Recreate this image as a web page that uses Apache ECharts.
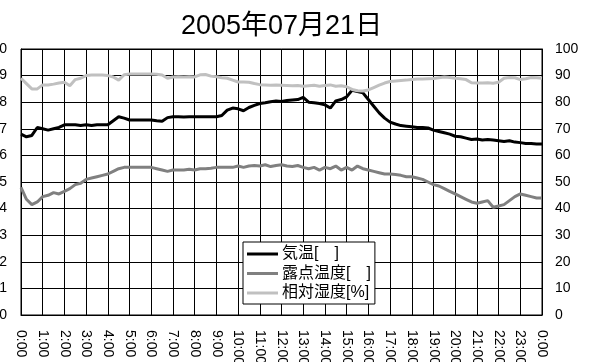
<!DOCTYPE html>
<html>
<head>
<meta charset="utf-8">
<script src="https://cdn.jsdelivr.net/npm/echarts@6/dist/echarts.min.js"></script>
<style>
  html, body { margin: 0; padding: 0; background: #fff; }
  #chart { width: 589px; height: 362px; }
</style>
</head>
<body>
<div id="chart"></div>
<script>
// Observations every 15 minutes, 0:00 to 24:00
const STEP_HOURS = 0.25;

// Air temperature [°C]
const airTemp = [
  26.80, 26.70, 26.75, 27.05, 27.00, 26.95, 27.00, 27.05,
  27.15, 27.15, 27.15, 27.12, 27.15, 27.12, 27.15, 27.15,
  27.15, 27.30, 27.45, 27.40, 27.33, 27.33, 27.33, 27.33,
  27.33, 27.30, 27.28, 27.42, 27.45, 27.45, 27.44, 27.45,
  27.45, 27.45, 27.45, 27.45, 27.45, 27.50, 27.70, 27.78,
  27.75, 27.68, 27.80, 27.88, 27.95, 27.98, 28.02, 28.05,
  28.03, 28.06, 28.08, 28.10, 28.18, 28.00, 27.98, 27.95,
  27.90, 27.78, 28.05, 28.10, 28.20, 28.45, 28.40, 28.35,
  28.10, 27.85, 27.60, 27.40, 27.25, 27.18, 27.12, 27.10,
  27.08, 27.05, 27.05, 27.03, 26.95, 26.90, 26.85, 26.80,
  26.72, 26.70, 26.65, 26.60, 26.62, 26.58, 26.60, 26.58,
  26.55, 26.52, 26.55, 26.50, 26.48, 26.45, 26.45, 26.43,
  26.43
];

// Dew point [°C]
const dewPoint = [
  24.80, 24.35, 24.15, 24.25, 24.45, 24.50, 24.60, 24.55,
  24.65, 24.75, 24.90, 24.95, 25.10, 25.15, 25.20, 25.25,
  25.30, 25.40, 25.50, 25.55, 25.55, 25.55, 25.55, 25.55,
  25.55, 25.50, 25.45, 25.40, 25.45, 25.45, 25.45, 25.48,
  25.45, 25.50, 25.50, 25.52, 25.55, 25.55, 25.55, 25.55,
  25.60, 25.55, 25.60, 25.62, 25.60, 25.65, 25.58, 25.62,
  25.65, 25.60, 25.58, 25.62, 25.55, 25.50, 25.55, 25.45,
  25.55, 25.50, 25.60, 25.45, 25.55, 25.45, 25.60, 25.50,
  25.45, 25.40, 25.35, 25.30, 25.30, 25.28, 25.25, 25.20,
  25.20, 25.15, 25.10, 25.00, 24.90, 24.85, 24.75, 24.65,
  24.55, 24.45, 24.35, 24.25, 24.20, 24.25, 24.30, 24.05,
  24.10, 24.15, 24.30, 24.45, 24.55, 24.50, 24.45, 24.40,
  24.40
];

// Relative humidity [%]
const humidity = [
  89.0, 87.0, 85.0, 85.0, 86.5, 86.5, 86.8, 87.2,
  87.5, 86.2, 88.5, 89.0, 90.0, 90.2, 90.2, 90.2,
  90.0, 89.5, 88.3, 90.3, 90.6, 90.6, 90.6, 90.6,
  90.6, 90.5, 90.2, 89.0, 89.5, 89.6, 89.5, 89.6,
  89.5, 90.3, 90.4, 89.8, 89.6, 89.2, 89.0, 88.3,
  87.6, 87.6, 87.5, 87.0, 86.6, 86.5, 86.4, 86.5,
  86.4, 86.3, 86.2, 86.3, 86.0, 86.2, 86.4, 86.0,
  86.3, 86.5, 86.0, 86.2, 85.8, 84.8, 84.3, 84.2,
  84.6, 85.5, 86.4, 87.2, 87.8, 88.0, 88.2, 88.3,
  88.5, 88.7, 88.7, 88.8, 88.9, 89.2, 89.5, 89.3,
  89.0, 88.8, 88.5, 87.3, 87.2, 87.2, 87.3, 87.1,
  87.5, 89.0, 89.3, 89.2, 88.5, 88.8, 89.3, 89.2,
  89.0
];

const seriesNames = ['気温[　]', '露点温度[　]', '相対湿度[%]'];
const titleText = '2005年07月21日';

const FONT = '"Liberation Sans", Arial, "Noto Sans CJK JP", sans-serif';

function toPairs(values) {
  return values.map((v, i) => [i * STEP_HOURS, v]);
}

const chart = echarts.init(document.getElementById('chart'), null, { renderer: 'canvas' });

chart.setOption({
  animation: false,
  backgroundColor: '#fff',
  textStyle: { fontFamily: FONT, color: '#000' },
  title: {
    text: titleText,
    left: 176,
    top: 8,
    textStyle: { fontFamily: FONT, fontSize: 27, fontWeight: 'normal', color: '#000' }
  },
  grid: {
    left: 21, right: 47, top: 49, bottom: 47,
    containLabel: false,
    outerBoundsMode: 'none',
    show: true, borderColor: '#000', borderWidth: 1, backgroundColor: '#fff'
  },
  legend: {
    orient: 'vertical',
    left: 243, top: 242,
    backgroundColor: '#fff',
    borderColor: '#000', borderWidth: 1, borderRadius: 0,
    padding: [4, 4, 3, 4],
    itemGap: 3.5,
    itemWidth: 31, itemHeight: 3,
    icon: 'rect',
    textStyle: { fontFamily: FONT, fontSize: 16, color: '#000', padding: [0, 0, 0, -1] },
    data: seriesNames
  },
  xAxis: {
    type: 'value',
    min: 0, max: 24, interval: 1,
    axisLine: { show: true, lineStyle: { color: '#000', width: 1 } },
    axisTick: { show: false },
    splitLine: { show: true, lineStyle: { color: '#000', width: 1 } },
    axisLabel: {
      rotate: -90,
      margin: 15,
      fontSize: 14,
      color: '#000',
      fontFamily: FONT,
      hideOverlap: false,
      formatter: v => (v % 24) + ':00'
    }
  },
  yAxis: [
    {
      type: 'value',
      min: 20, max: 30, interval: 1,
      axisLine: { show: true, lineStyle: { color: '#000', width: 1 } },
      axisTick: { show: false },
      splitLine: { show: true, lineStyle: { color: '#000', width: 1 } },
      axisLabel: { margin: 14, fontSize: 14, color: '#000', fontFamily: FONT }
    },
    {
      type: 'value',
      min: 0, max: 100, interval: 10,
      position: 'right',
      axisLine: { show: true, lineStyle: { color: '#000', width: 1 } },
      axisTick: { show: false },
      splitLine: { show: false },
      axisLabel: { margin: 13, fontSize: 14, color: '#000', fontFamily: FONT }
    }
  ],
  series: [
    {
      name: seriesNames[0], type: 'line', yAxisIndex: 0,
      data: toPairs(airTemp),
      showSymbol: false, symbol: 'none',
      lineStyle: { color: '#000', width: 3 },
      itemStyle: { color: '#000' }
    },
    {
      name: seriesNames[1], type: 'line', yAxisIndex: 0,
      data: toPairs(dewPoint),
      showSymbol: false, symbol: 'none',
      lineStyle: { color: '#808080', width: 3 },
      itemStyle: { color: '#808080' }
    },
    {
      name: seriesNames[2], type: 'line', yAxisIndex: 1,
      data: toPairs(humidity),
      showSymbol: false, symbol: 'none',
      lineStyle: { color: '#c0c0c0', width: 3 },
      itemStyle: { color: '#c0c0c0' }
    }
  ]
});
</script>
</body>
</html>
